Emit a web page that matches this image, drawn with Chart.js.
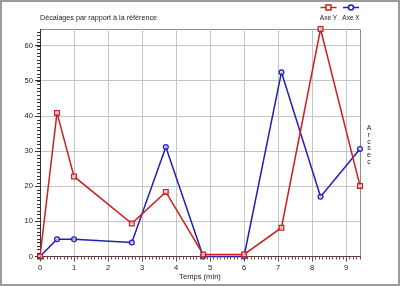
<!DOCTYPE html>
<html>
<head>
<meta charset="utf-8">
<script src="https://cdn.jsdelivr.net/npm/chart.js@4/dist/chart.umd.min.js"></script>
<style>
  html, body { margin: 0; padding: 0; background: #fff; }
  #wrap { width: 400px; height: 286px; }
</style>
</head>
<body>
<div id="wrap"><canvas id="chart"></canvas></div>
<script>
// Data
const times = [0, 0.5, 1, 2.7, 3.7, 4.8, 6, 7.1, 8.25, 9.41];
const axeY = [0, 40.9, 22.8, 9.4, 18.4, 0.6, 0.6, 8.2, 64.8, 20.1];
const axeX = [0, 4.9, 4.9, 4.0, 31.2, 0, 0, 52.5, 17.0, 30.6];
const seriesNames = ['Axe Y', 'Axe X'];
const titleText = 'Décalages par rapport à la référence';
const xTitle = 'Temps (min)';
const unitText = 'Arcsec';

const FONT = '"Liberation Sans", Arial, sans-serif';
const RED = '#cc1f1f';
const BLUE = '#1f1fb4';

// frame, plot box, minor ticks, title, legend and unit label
const decor = {
    id: 'decor',
    beforeDraw(chart) {
        const ctx = chart.ctx;
        const a = chart.chartArea;
        ctx.save();
        ctx.fillStyle = '#fff';
        ctx.fillRect(0, 0, chart.width, chart.height);
        ctx.strokeStyle = '#8c8c8c';
        ctx.lineWidth = 1;
        ctx.beginPath();
        ctx.moveTo(a.left, a.top + 0.5);
        ctx.lineTo(a.right + 0.5, a.top + 0.5);
        ctx.lineTo(a.right + 0.5, a.bottom);
        ctx.stroke();
        ctx.restore();
    },
    afterDraw(chart) {
        const ctx = chart.ctx;
        const a = chart.chartArea;
        const xs = chart.scales.x, ys = chart.scales.y;
        ctx.save();
        // minor ticks
        ctx.lineWidth = 1;
        ctx.strokeStyle = '#333';
        ctx.beginPath();
        for (let v = 0; v <= ys.max; v += 1) {
            const p = Math.round(ys.getPixelForValue(v)) + 0.5;
            ctx.moveTo(a.left - 3, p);
            ctx.lineTo(a.left, p);
        }
        ctx.stroke();
        ctx.strokeStyle = '#7a4848';
        ctx.beginPath();
        for (let i = 0; i / 10 <= xs.max; i++) {
            const p = Math.round(xs.getPixelForValue(i / 10)) + 0.5;
            ctx.moveTo(p, a.bottom);
            ctx.lineTo(p, a.bottom + 3);
        }
        ctx.stroke();

        // title
        ctx.fillStyle = '#222';
        ctx.font = '7.2px ' + FONT;
        ctx.textBaseline = 'middle';
        ctx.textAlign = 'left';
        ctx.fillText(titleText, a.left, 18);

        // x title
        ctx.font = '7.6px ' + FONT;
        ctx.textAlign = 'center';
        ctx.fillText(xTitle, (a.left + a.right) / 2, 277);

        // unit, stacked letters
        ctx.font = '7px ' + FONT;
        [...unitText].forEach((ch, i) => ctx.fillText(ch, a.right + 9, 128 + i * 6.8));

        // legend
        const items = [
            { name: seriesNames[0], color: RED, style: 'rect', cx: 328.5 },
            { name: seriesNames[1], color: BLUE, style: 'circle', cx: 351 }
        ];
        items.forEach(it => {
            ctx.strokeStyle = it.color;
            ctx.lineWidth = 1.5;
            ctx.beginPath();
            ctx.moveTo(it.cx - 8, 7.5);
            ctx.lineTo(it.cx + 8, 7.5);
            ctx.stroke();
            ctx.fillStyle = '#fff';
            ctx.beginPath();
            if (it.style === 'rect') ctx.rect(it.cx - 2.5, 5, 5, 5);
            else ctx.arc(it.cx, 7.5, 2.5, 0, Math.PI * 2);
            ctx.fill();
            ctx.stroke();
            ctx.fillStyle = '#222';
            ctx.font = '6.5px ' + FONT;
            ctx.textAlign = 'center';
            ctx.fillText(it.name, it.cx, 18);
        });

        // outer frame
        ctx.strokeStyle = '#9a9a9a';
        ctx.lineWidth = 2;
        ctx.strokeRect(1, 1, chart.width - 2, chart.height - 2);
        ctx.restore();
    }
};

new Chart(document.getElementById('chart'), {
    type: 'line',
    data: {
        labels: times,
        datasets: [
            {
                label: seriesNames[0],
                data: times.map((t, i) => ({ x: t, y: axeY[i] })),
                borderColor: RED,
                borderWidth: 1.5,
                pointStyle: 'rect',
                pointRadius: 3.3,
                pointBorderWidth: 1.3,
                pointBackgroundColor: 'rgba(255,255,255,0.6)',
                pointBorderColor: RED,
                tension: 0,
                clip: false
            },
            {
                label: seriesNames[1],
                data: times.map((t, i) => ({ x: t, y: axeX[i] })),
                borderColor: BLUE,
                borderWidth: 1.5,
                pointStyle: 'circle',
                pointRadius: 2.4,
                pointBorderWidth: 1.3,
                pointBackgroundColor: 'rgba(255,255,255,0.6)',
                pointBorderColor: BLUE,
                tension: 0,
                clip: false
            }
        ]
    },
    options: {
        responsive: true,
        maintainAspectRatio: false,
        animation: false,
        layout: { padding: { left: 0, right: 40, top: 29, bottom: 0 } },
        plugins: {
            legend: { display: false },
            tooltip: { enabled: false }
        },
        scales: {
            x: {
                type: 'linear',
                min: 0,
                max: 9.41,
                afterFit: s => { s.height = 29.5; },
                grid: { color: '#c4c4c4', tickColor: '#444', tickLength: 5 },
                border: { color: '#5a3a3a', width: 1 },
                ticks: {
                    stepSize: 1,
                    includeBounds: false,
                    padding: 2,
                    color: '#222',
                    font: { family: FONT, size: 7.6 },
                    maxRotation: 0,
                    autoSkip: false
                }
            },
            y: {
                min: 0,
                max: 64.8,
                afterFit: s => { s.width = 40; },
                grid: { color: '#c4c4c4', tickColor: '#333', tickLength: 5 },
                border: { color: '#333', width: 1 },
                ticks: {
                    stepSize: 10,
                    includeBounds: false,
                    padding: 2,
                    color: '#222',
                    font: { family: FONT, size: 7.6 },
                    autoSkip: false
                }
            }
        }
    },
    plugins: [decor]
});
</script>
</body>
</html>
